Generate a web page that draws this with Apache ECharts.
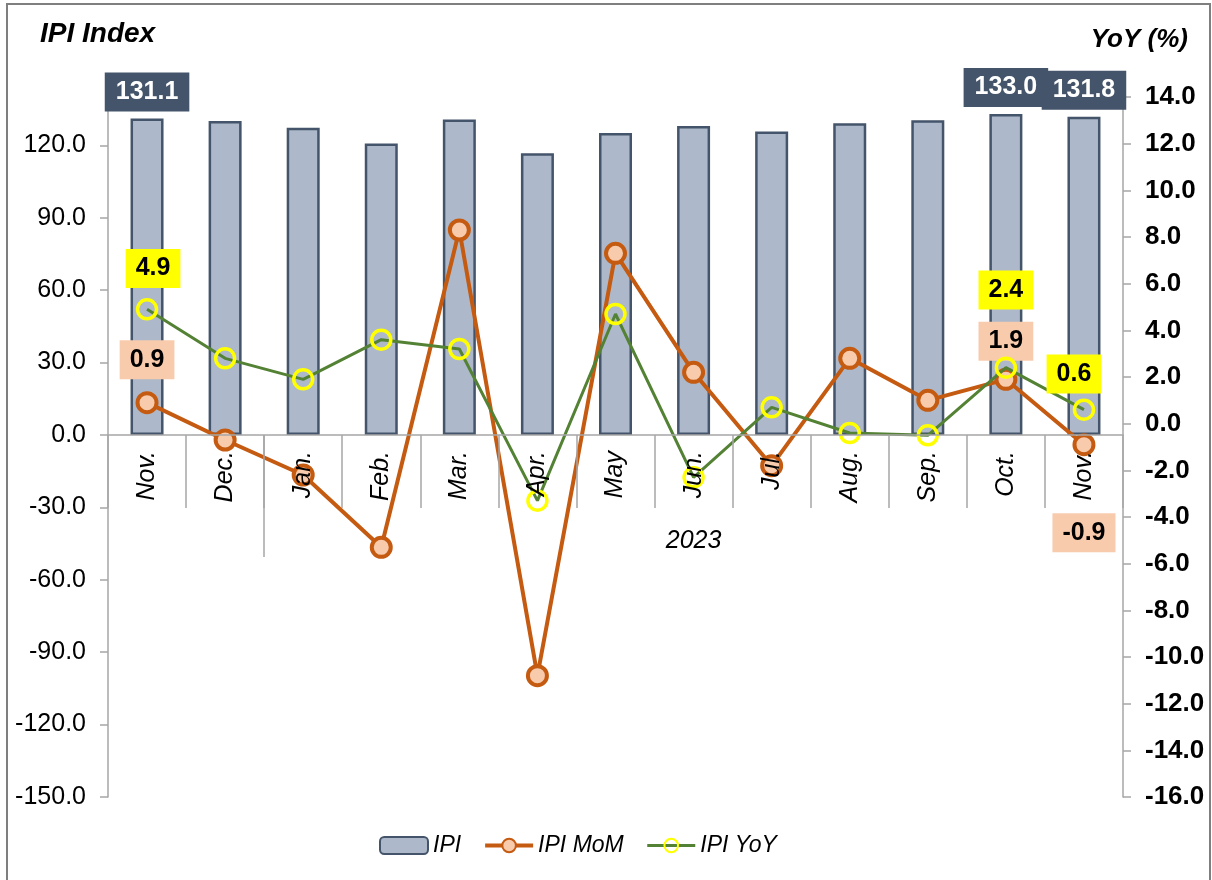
<!DOCTYPE html>
<html>
<head>
<meta charset="utf-8">
<title>IPI Index</title>
<script src="https://cdn.jsdelivr.net/npm/echarts@6/dist/echarts.min.js"></script>
<style>
  html, body { margin: 0; padding: 0; background: #fff; overflow: hidden; }
  #chart { width: 1212px; height: 880px; }
  .frame {
    position: absolute; left: 6px; top: 3px; width: 1201px; height: 900px;
    border: 2px solid #7f7f7f; pointer-events: none;
  }
</style>
</head>
<body>
<div id="chart"></div>
<div class="frame"></div>
<script>
// data
const months = ['Nov.', 'Dec.', 'Jan.', 'Feb.', 'Mar.', 'Apr.', 'May', 'Jun.', 'Jul.', 'Aug.', 'Sep.', 'Oct.', 'Nov.']
const yearLabel = '2023'
const ipi = [131.1, 130.1, 127.3, 120.7, 130.7, 116.7, 125.1, 128.0, 125.7, 129.1, 130.4, 133.0, 131.8]
const ipiMoM = [0.9, -0.7, -2.2, -5.3, 8.3, -10.8, 7.3, 2.2, -1.8, 2.8, 1.0, 1.9, -0.9]
const ipiYoY = [4.9, 2.8, 1.9, 3.6, 3.2, -3.3, 4.7, -2.3, 0.7, -0.4, -0.5, 2.4, 0.6]

// which points carry a value box
const ipiLabelIdx = [0, 11, 12]
const momLabelIdx = [0, 11, 12]
const yoyLabelIdx = [0, 11, 12]

// axis ranges
const leftMin = -150, leftMax = 140, leftStep = 30
const rightMin = -16, rightMax = 14, rightStep = 2

const FONT = '"Liberation Sans", Arial, sans-serif'
const AXIS_GRAY = '#A6A6A6'
const GRID = { left: 108, right: 89, top: 97, bottom: 83 }
const gridHeight = 880 - GRID.top - GRID.bottom
// x axes sit on the left-axis zero line
const zeroOffset = -Math.round((0 - leftMin) / (leftMax - leftMin) * gridHeight)

const chart = echarts.init(document.getElementById('chart'))

// label placement per point (style only)
const momPlace = {
  0: { position: 'top', distance: 12 },
  11: { position: 'top', distance: 7 },
  12: { position: 'bottom', distance: 57 }
}
const yoyPlace = {
  0: { position: 'top', distance: 10, offset: [6, 0] },
  11: { position: 'top', distance: 47 },
  12: { position: 'top', distance: 5, offset: [-10, 0] }
}

const boxLabel = (bg, fg) => ({
  show: true,
  backgroundColor: bg,
  color: fg,
  fontFamily: FONT,
  fontWeight: 'bold',
  fontSize: 25,
  lineHeight: 27,
  padding: [6, 10],
  formatter: p => p.value.toFixed(1)
})

const ipiData = ipi.map((v, i) => ipiLabelIdx.includes(i)
  ? { value: v, label: Object.assign(boxLabel('#44546A', '#fff'), { position: 'top', distance: 7, padding: [6, 11] }) }
  : v)
const momData = ipiMoM.map((v, i) => momLabelIdx.includes(i)
  ? { value: v, label: Object.assign(boxLabel('#F8CBAD', '#000'), momPlace[i]) }
  : v)
const yoyData = ipiYoY.map((v, i) => yoyLabelIdx.includes(i)
  ? { value: v, label: Object.assign(boxLabel('#FFFF00', '#000'), yoyPlace[i]) }
  : v)

const yearStart = months.indexOf('Jan.')
const yearCenter = (yearStart + months.length) / 2

const option = {
  animation: false,
  title: [
    {
      text: 'IPI Index', left: 35, top: 15,
      textStyle: { fontFamily: FONT, fontSize: 28, fontWeight: 'bold', fontStyle: 'italic', color: '#000' }
    },
    {
      text: 'YoY (%)', right: 19, top: 22,
      textStyle: { fontFamily: FONT, fontSize: 26, fontWeight: 'bold', fontStyle: 'italic', color: '#000' }
    }
  ],
  grid: Object.assign({ outerBoundsMode: 'none', containLabel: false }, GRID),
  legend: {
    data: ['IPI', 'IPI MoM', 'IPI YoY'],
    left: 374,
    top: 829,
    itemWidth: 48,
    itemHeight: 17,
    itemGap: 22,
    lineStyle: { width: 'inherit' },
    textStyle: { fontFamily: FONT, fontSize: 23, fontStyle: 'italic', color: '#000' }
  },
  xAxis: [
    {
      type: 'category',
      data: months,
      boundaryGap: true,
      position: 'bottom',
      offset: zeroOffset,
      z: 10,
      axisLine: { show: true, onZero: false, lineStyle: { color: AXIS_GRAY, width: 1.5 } },
      axisTick: { show: true, interval: 0, length: 73, lineStyle: { color: AXIS_GRAY, width: 1.5 } },
      axisLabel: {
        interval: 0, rotate: 90, margin: 16,
        fontFamily: FONT, fontSize: 25, fontStyle: 'italic', color: '#000'
      },
      splitLine: { show: false }
    },
    {
      type: 'value',
      min: 0,
      max: months.length,
      position: 'bottom',
      offset: zeroOffset,
      axisLine: { show: false, onZero: false },
      axisTick: { show: true, length: 122, customValues: [yearStart], lineStyle: { color: AXIS_GRAY, width: 1.5 } },
      axisLabel: {
        customValues: [yearCenter], formatter: () => yearLabel, margin: 94,
        fontFamily: FONT, fontSize: 25, fontStyle: 'italic', color: '#000'
      },
      splitLine: { show: false }
    }
  ],
  yAxis: [
    {
      type: 'value',
      position: 'left',
      min: leftMin, max: leftMax, interval: leftStep,
      axisLine: { show: true, onZero: false, lineStyle: { color: AXIS_GRAY, width: 1.5 } },
      axisTick: { show: true, length: 8, lineStyle: { color: AXIS_GRAY, width: 1.5 } },
      axisLabel: {
        showMaxLabel: false, margin: 22, formatter: v => v.toFixed(1),
        fontFamily: FONT, fontSize: 25, color: '#000'
      },
      splitLine: { show: false }
    },
    {
      type: 'value',
      position: 'right',
      min: rightMin, max: rightMax, interval: rightStep,
      axisLine: { show: true, onZero: false, lineStyle: { color: AXIS_GRAY, width: 1.5 } },
      axisTick: { show: true, length: 8, lineStyle: { color: AXIS_GRAY, width: 1.5 } },
      axisLabel: {
        margin: 22, formatter: v => v.toFixed(1),
        fontFamily: FONT, fontSize: 26, fontWeight: 'bold', color: '#000'
      },
      splitLine: { show: false }
    }
  ],
  series: [
    {
      name: 'IPI',
      type: 'bar',
      xAxisIndex: 0,
      yAxisIndex: 0,
      barWidth: 33,
      data: ipiData,
      itemStyle: { color: '#ADB9CA', borderColor: '#44546A', borderWidth: 2.5 },
      label: { show: false },
      emphasis: { disabled: true }
    },
    {
      name: 'IPI MoM',
      type: 'line',
      xAxisIndex: 0,
      yAxisIndex: 1,
      data: momData,
      symbol: 'circle',
      symbolSize: 19,
      lineStyle: { color: '#C55A11', width: 4 },
      itemStyle: { color: '#F8CBAD', borderColor: '#C55A11', borderWidth: 4 },
      label: { show: false },
      emphasis: { disabled: true },
      z: 3
    },
    {
      name: 'IPI YoY',
      type: 'line',
      xAxisIndex: 0,
      yAxisIndex: 1,
      data: yoyData,
      symbol: 'circle',
      symbolSize: 19,
      lineStyle: { color: '#548235', width: 3 },
      itemStyle: { color: 'rgba(255,255,255,0)', borderColor: '#FFFF00', borderWidth: 3.5 },
      label: { show: false },
      emphasis: { disabled: true },
      z: 4
    }
  ]
}

chart.setOption(option)
</script>
</body>
</html>
